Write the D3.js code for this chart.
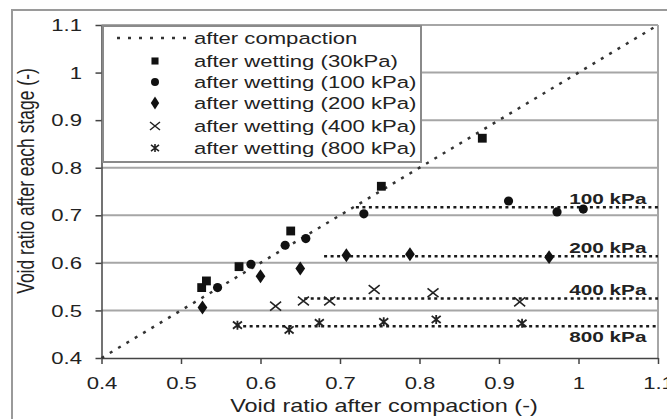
<!DOCTYPE html>
<html><head><meta charset="utf-8">
<script src="https://cdn.jsdelivr.net/npm/d3@7"></script>
<style>body{margin:0;background:#fff}svg{display:block}text{font-family:"Liberation Sans",Arial,sans-serif;fill:#222}</style>
</head><body><svg id="c" width="667" height="419"></svg>
<script>
// ---- data ----
const xTicks = [0.4,0.5,0.6,0.7,0.8,0.9,1.0,1.1];
const yTicks = [0.4,0.5,0.6,0.7,0.8,0.9,1.0,1.1];
const xTickLabels = ["0.4","0.5","0.6","0.7","0.8","0.9","1","1.1"];
const yTickLabels = ["0.4","0.5","0.6","0.7","0.8","0.9","1","1.1"];
const compactionLine = [[0.4,0.4],[1.1,1.1]];
const wet30  = [[0.526,0.548],[0.532,0.562],[0.573,0.592],[0.638,0.667],[0.752,0.761],[0.879,0.862]];
const wet100 = [[0.546,0.548],[0.588,0.597],[0.631,0.637],[0.657,0.651],[0.730,0.703],[0.912,0.730],[0.973,0.707],[1.006,0.713]];
const wet200 = [[0.527,0.506],[0.600,0.572],[0.650,0.588],[0.708,0.616],[0.788,0.618],[0.963,0.612]];
const wet400 = [[0.619,0.509],[0.654,0.520],[0.687,0.520],[0.743,0.544],[0.817,0.537],[0.926,0.518]];
const wet800 = [[0.571,0.469],[0.636,0.459],[0.674,0.474],[0.755,0.476],[0.821,0.481],[0.929,0.473]];
const pressureLabels = ["100 kPa","200 kPa","400 kPa","800 kPa"];
const pressureLevels = [0.717,0.614,0.525,0.467];
const pressureStart  = [0.72,0.68,0.655,0.57];
const legendLabels = ["after compaction","after wetting (30kPa)","after wetting (100 kPa)","after wetting (200 kPa)","after wetting (400 kPa)","after wetting (800 kPa)"];
const xTitle = "Void ratio after compaction (-)";
const yTitle = "Void ratio after each stage (-)";

// ---- drawing ----
const SX = 1.34;
const svg = d3.select("#c");
const x = d3.scaleLinear().domain([0.4,1.1]).range([101.5,658]);
const y = d3.scaleLinear().domain([0.4,1.1]).range([358,25]);

// outer frame
svg.append("rect").attr("x",12).attr("y",10).attr("width",700).attr("height",450)
  .attr("fill","none").attr("stroke","#9a9a9a").attr("stroke-width",2);

// gridlines
svg.append("g").selectAll("line").data(yTicks.slice(1)).join("line")
  .attr("x1",x(0.4)).attr("x2",x(1.1)).attr("y1",d=>y(d)).attr("y2",d=>y(d))
  .attr("stroke","#a6a6a6").attr("stroke-width",2);
svg.append("line").attr("x1",x(1.1)).attr("x2",x(1.1)).attr("y1",y(1.1)).attr("y2",y(0.4))
  .attr("stroke","#a6a6a6").attr("stroke-width",2);

// axes
const yAxis = svg.append("g").attr("transform",`translate(${x(0.4)},0)`)
  .call(d3.axisLeft(y).tickValues(yTicks).tickFormat((d,i)=>yTickLabels[i]).tickSize(6).tickSizeOuter(0));
const xAxis = svg.append("g").attr("transform",`translate(0,${y(0.4)})`)
  .call(d3.axisBottom(x).tickValues(xTicks).tickFormat((d,i)=>xTickLabels[i]).tickSize(6).tickSizeOuter(0));
[yAxis,xAxis].forEach(g=>{
  g.select(".domain").attr("stroke","#444").attr("stroke-width",1.5);
  g.selectAll(".tick line").attr("stroke","#444").attr("stroke-width",1.5);
  g.selectAll(".tick text").attr("font-size",16.5).attr("fill","#333")
   .style("font-family",'"Liberation Sans",Arial,sans-serif');
});
yAxis.selectAll(".tick text").attr("x",0).attr("dy","0.34em")
  .attr("transform",`translate(-19.5,0) scale(${SX},1)`);
xAxis.selectAll(".tick text").attr("y",0).attr("dy","0.71em")
  .attr("transform",`translate(0,19) scale(${SX},1)`);

// axis titles
svg.append("text").attr("text-anchor","middle").attr("font-size",17.5).attr("fill","#333")
  .attr("transform",`translate(${(230+538)/2},412) scale(${SX},1)`).text(xTitle);
svg.append("text").attr("text-anchor","middle").attr("font-size",17.5).attr("fill","#333")
  .attr("transform",`translate(34,${(67+295)/2}) rotate(-90) scale(1,${SX})`).text(yTitle);

// 1:1 line
const line = d3.line().x(d=>x(d[0])).y(d=>y(d[1]));
svg.append("path").attr("d",line(compactionLine)).attr("fill","none")
  .attr("stroke","#333").attr("stroke-width",2.5).attr("stroke-dasharray","3,6.7");

// pressure lines
pressureLevels.forEach((lv,i)=>{
  svg.append("path").attr("d",line([[pressureStart[i],lv],[1.1,lv]])).attr("fill","none")
    .attr("stroke","#1a1a1a").attr("stroke-width",2.5).attr("stroke-dasharray","3,3.5");
  const below = i===3;
  svg.append("text").attr("text-anchor","end").attr("font-size",15.5).attr("font-weight","bold")
    .attr("fill","#222")
    .attr("transform",`translate(${x(1.0855)},${y(lv)+(below?16:-3.5)}) scale(${SX},1)`)
    .text(pressureLabels[i]);
});

// markers
const sq = d3.symbol().type(d3.symbolSquare).size(78);
const ci = d3.symbol().type(d3.symbolCircle).size(66);
const di = d3.symbol().type(d3.symbolDiamond).size(62);
const crossPath = r => `M${-r},${-r*0.8}L${r},${r*0.8}M${-r},${r*0.8}L${r},${-r*0.8}`;
const starPath = r => `M${-r},${-r*0.8}L${r},${r*0.8}M${-r},${r*0.8}L${r},${-r*0.8}M0,${-r}L0,${r}`;
function pts(data, draw){
  svg.append("g").selectAll("path").data(data).join("path")
    .attr("transform",d=>`translate(${x(d[0])},${y(d[1])})`).call(draw);
}
pts(wet30, s=>s.attr("d",sq()).attr("fill","#111"));
pts(wet100, s=>s.attr("d",ci()).attr("fill","#111"));
pts(wet200, s=>s.attr("d",di()).attr("fill","#111").attr("transform",function(d){return `translate(${x(d[0])},${y(d[1])}) scale(1.15,0.95)`;}));
pts(wet400, s=>s.attr("d",crossPath(5.5)).attr("fill","none").attr("stroke","#222").attr("stroke-width",1.6));
pts(wet800, s=>s.attr("d",starPath(4.5)).attr("fill","none").attr("stroke","#222").attr("stroke-width",1.8));

// legend
const lg = svg.append("g");
lg.append("rect").attr("x",103).attr("y",26).attr("width",318).attr("height",136)
  .attr("fill","#fff").attr("stroke","#8a8a8a").attr("stroke-width",2);
const rowY = [38,61,82,103,126,148];
lg.append("line").attr("x1",117).attr("x2",187).attr("y1",rowY[0]).attr("y2",rowY[0])
  .attr("stroke","#333").attr("stroke-width",2.5).attr("stroke-dasharray","3,8");
lg.append("path").attr("transform",`translate(155,${rowY[1]})`).attr("d",d3.symbol().type(d3.symbolSquare).size(50)()).attr("fill","#111");
lg.append("path").attr("transform",`translate(155,${rowY[2]})`).attr("d",d3.symbol().type(d3.symbolCircle).size(50)()).attr("fill","#111");
lg.append("path").attr("transform",`translate(155,${rowY[3]}) scale(1.1,1)`).attr("d",d3.symbol().type(d3.symbolDiamond).size(50)()).attr("fill","#111");
lg.append("path").attr("transform",`translate(155,${rowY[4]})`).attr("d",crossPath(5)).attr("fill","none").attr("stroke","#222").attr("stroke-width",1.5);
lg.append("path").attr("transform",`translate(155,${rowY[5]})`).attr("d",starPath(4)).attr("fill","none").attr("stroke","#222").attr("stroke-width",1.6);
lg.selectAll("text.l").data(legendLabels).join("text").attr("class","l")
  .attr("font-size",16.5).attr("fill","#222")
  .attr("transform",(d,i)=>`translate(194,${rowY[i]+5.5}) scale(${SX},1)`).text(d=>d);
</script></body></html>
